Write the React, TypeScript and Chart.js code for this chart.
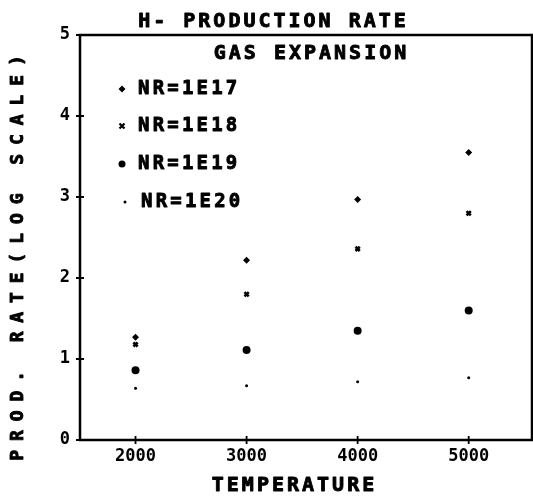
import React, { useEffect, useRef } from "react";
import { Chart, registerables } from "chart.js";

Chart.register(...registerables);

const temperatures = [2000, 3000, 4000, 5000];
const nr1e17 = [1.27, 2.22, 2.97, 3.55];
const nr1e18 = [1.18, 1.8, 2.36, 2.8];
const nr1e19 = [0.86, 1.11, 1.35, 1.6];
const nr1e20 = [0.64, 0.67, 0.72, 0.77];
const xTickValues = [2000, 3000, 4000, 5000];
const yTickValues = [0, 1, 2, 3, 4, 5];
const seriesLabels = ["NR=1E17", "NR=1E18", "NR=1E19", "NR=1E20"];
const titleText = "H- PRODUCTION RATE";
const subtitleText = "GAS EXPANSION";
const xTitle = "TEMPERATURE";
const yTitle = "PROD. RATE(LOG SCALE)";

const FAMILY = '"DejaVu Sans Mono", "Liberation Mono", monospace';

function drawSpaced(
  ctx: CanvasRenderingContext2D,
  text: string,
  cx: number,
  cy: number,
  size: number,
  spacing: number,
  align: "center" | "left" = "center"
) {
  ctx.save();
  ctx.font = `bold ${size}px ${FAMILY}`;
  (ctx as any).letterSpacing = "0px";
  const base = ctx.measureText(text).width;
  const w = base + spacing * (text.length - 1);
  (ctx as any).letterSpacing = `${spacing}px`;
  ctx.textAlign = "left";
  ctx.textBaseline = "middle";
  ctx.fillStyle = "#000";
  ctx.strokeStyle = "#000";
  ctx.lineWidth = 0.9;
  ctx.lineJoin = "round";
  const x = align === "center" ? cx - w / 2 : cx;
  ctx.fillText(text, x, cy);
  ctx.strokeText(text, x, cy);
  ctx.restore();
}

function drawMarker(ctx: CanvasRenderingContext2D, idx: number, x: number, y: number) {
  ctx.save();
  ctx.fillStyle = "#000";
  ctx.strokeStyle = "#000";
  if (idx === 0) {
    const r = 3.5;
    ctx.beginPath();
    ctx.moveTo(x, y - r);
    ctx.lineTo(x + r, y);
    ctx.lineTo(x, y + r);
    ctx.lineTo(x - r, y);
    ctx.closePath();
    ctx.fill();
  } else if (idx === 1) {
    ctx.lineWidth = 2.2;
    const r = 2.5;
    ctx.beginPath();
    ctx.moveTo(x - r, y - r);
    ctx.lineTo(x + r, y + r);
    ctx.moveTo(x + r, y - r);
    ctx.lineTo(x - r, y + r);
    ctx.stroke();
  } else if (idx === 2) {
    ctx.beginPath();
    ctx.arc(x, y, 3.5, 0, Math.PI * 2);
    ctx.fill();
  } else {
    ctx.beginPath();
    ctx.arc(x, y, 1.5, 0, Math.PI * 2);
    ctx.fill();
  }
  ctx.restore();
}

const decorPlugin = {
  id: "decor",
  afterDraw(chart: any) {
    const ctx: CanvasRenderingContext2D = chart.ctx;
    const { left, right, top, bottom } = chart.chartArea;
    const xs = chart.scales.x;
    const ys = chart.scales.y;
    ctx.save();
    ctx.strokeStyle = "#000";
    ctx.lineWidth = 2.5;
    ctx.strokeRect(left, top, right - left, bottom - top);
    ctx.lineWidth = 1.8;
    ctx.beginPath();
    for (const v of yTickValues) {
      const py = ys.getPixelForValue(v);
      ctx.moveTo(left - 4, py);
      ctx.lineTo(left + 4, py);
    }
    for (const v of xTickValues) {
      const px = xs.getPixelForValue(v);
      ctx.moveTo(px, bottom - 4);
      ctx.lineTo(px, bottom + 4);
    }
    ctx.stroke();
    ctx.restore();

    drawSpaced(ctx, titleText, left + 192, top - 13, 20, 3);
    drawSpaced(ctx, subtitleText, left + 230, top + 19, 20, 3);
    drawSpaced(ctx, xTitle, left + 213, bottom + 46, 20, 3);

    const rowYs = [89, 126, 164, 202];
    seriesLabels.forEach((lab, i) => {
      const ry = rowYs[i];
      drawMarker(ctx, i, i === 3 ? left + 45 : left + 42, ry);
      drawSpaced(ctx, lab, i === 3 ? left + 61 : left + 58, ry, 19, 3.2, "left");
    });

    ctx.save();
    ctx.translate(18, 258);
    ctx.rotate(-Math.PI / 2);
    drawSpaced(ctx, yTitle, 0, 0, 18, 8.9);
    ctx.restore();
  },
};

export default function App() {
  const canvasRef = useRef<HTMLCanvasElement | null>(null);

  useEffect(() => {
    const canvas = canvasRef.current;
    if (!canvas) return;
    const tickFont = { family: FAMILY, size: 17, weight: "bold" as const };
    const mk = (vals: number[]) => temperatures.map((t, i) => ({ x: t, y: vals[i] }));
    const chart = new Chart(canvas, {
      type: "scatter",
      data: {
        datasets: [
          {
            label: seriesLabels[0],
            data: mk(nr1e17),
            pointStyle: "rectRot",
            pointRadius: 3.5,
            backgroundColor: "#000",
            borderColor: "#000",
            borderWidth: 0,
          },
          {
            label: seriesLabels[1],
            data: mk(nr1e18),
            pointStyle: "crossRot",
            pointRadius: 3,
            backgroundColor: "#000",
            borderColor: "#000",
            borderWidth: 2.6,
          },
          {
            label: seriesLabels[2],
            data: mk(nr1e19),
            pointStyle: "circle",
            pointRadius: 4,
            backgroundColor: "#000",
            borderColor: "#000",
            borderWidth: 0,
          },
          {
            label: seriesLabels[3],
            data: mk(nr1e20),
            pointStyle: "circle",
            pointRadius: 1.5,
            backgroundColor: "#000",
            borderColor: "#000",
            borderWidth: 0,
          },
        ],
      },
      options: {
        animation: false,
        responsive: false,
        layout: { autoPadding: false, padding: { top: 35, right: 1, left: 0, bottom: 0 } },
        plugins: {
          legend: { display: false },
          title: { display: false },
          tooltip: { enabled: false },
        },
        scales: {
          x: {
            type: "linear",
            min: 1500,
            max: 5570,
            grid: { display: false, drawTicks: false },
            border: { display: false },
            afterBuildTicks: (s: any) => {
              s.ticks = xTickValues.map((v) => ({ value: v }));
            },
            afterFit: (s: any) => {
              s.height = 57;
              s.paddingLeft = 0;
              s.paddingRight = 0;
            },
            ticks: {
              font: tickFont,
              color: "#000",
              padding: 6,
              callback: (v: any) => String(v),
            },
          },
          y: {
            type: "linear",
            min: 0,
            max: 5,
            grid: { display: false, drawTicks: false },
            border: { display: false },
            afterBuildTicks: (s: any) => {
              s.ticks = yTickValues.map((v) => ({ value: v }));
            },
            afterFit: (s: any) => {
              s.width = 80;
              s.paddingTop = 0;
              s.paddingBottom = 0;
            },
            ticks: {
              font: tickFont,
              color: "#000",
              padding: 10,
              callback: (v: any) => String(v),
            },
          },
        },
      },
      plugins: [decorPlugin],
    });
    return () => chart.destroy();
  }, []);

  return (
    <div style={{ position: "absolute", left: 0, top: 0, width: 533, height: 497, background: "#fff" }}>
      <canvas ref={canvasRef} width={533} height={497} style={{ display: "block" }} />
    </div>
  );
}
